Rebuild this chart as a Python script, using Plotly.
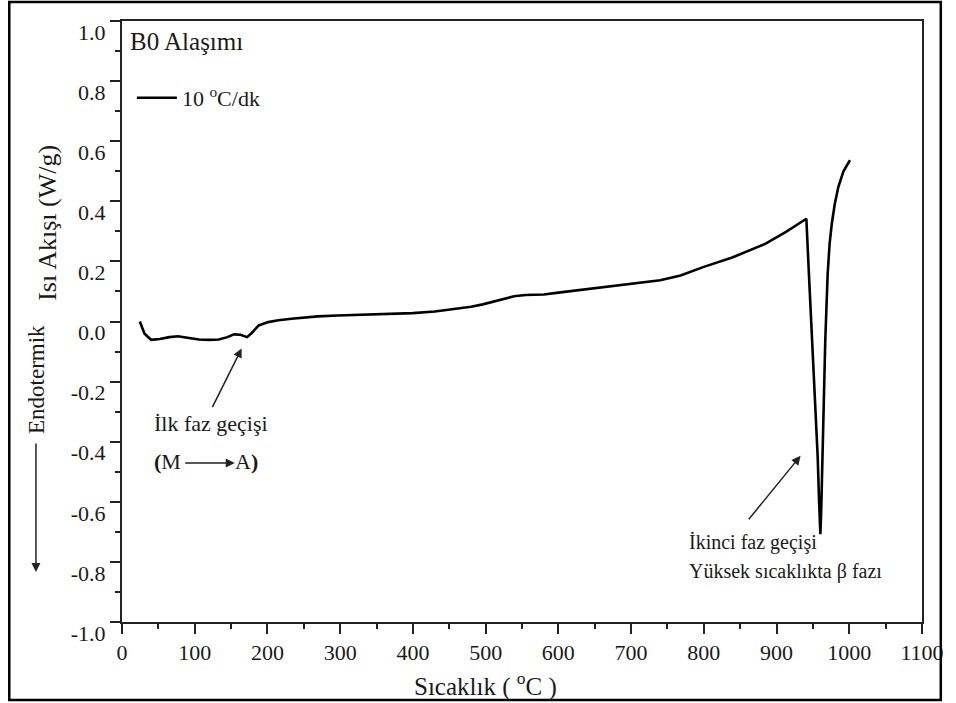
import plotly.graph_objects as go

# DSC heating curve of the B0 alloy (10 °C/min)
temperature = [24.5, 31, 40, 52, 65, 77, 92, 106, 120, 133, 145, 154, 163, 172, 178,
               188, 201, 215, 233, 250, 269, 296, 328, 360, 400, 430, 455, 480, 496,
               518, 539, 555, 580, 600, 645, 691, 740, 768, 799, 840, 885, 913, 941,
               944.5, 949, 953.6, 956.6, 958.5, 960.3, 961.5, 962.6, 965, 967, 970.3,
               973, 976, 980, 985, 992, 1001]
heat_flow = [0.0, -0.041, -0.061, -0.058, -0.052, -0.049, -0.055, -0.06, -0.061, -0.06,
             -0.052, -0.043, -0.044, -0.052, -0.039, -0.013, -0.002, 0.004, 0.009, 0.013,
             0.017, 0.02, 0.022, 0.024, 0.028, 0.033, 0.04, 0.049, 0.057, 0.07, 0.084,
             0.088, 0.09, 0.096, 0.109, 0.123, 0.137, 0.153, 0.181, 0.214, 0.259, 0.298,
             0.342, 0.159, -0.063, -0.286, -0.452, -0.6, -0.708, -0.62, -0.508, -0.286,
             -0.063, 0.159, 0.26, 0.326, 0.39, 0.448, 0.5, 0.537]

x_ticks = list(range(0, 1101, 100))
y_ticks = [-1.0, -0.8, -0.6, -0.4, -0.2, 0.0, 0.2, 0.4, 0.6, 0.8, 1.0]
y_tick_text = [f"{v:.1f}" for v in y_ticks]

# arrow tips pointing at the two transitions (data coordinates)
first_transition = (164.5, -0.09)
second_transition = (933, -0.447)

FONT = "Liberation Serif, Times New Roman, serif"
INK = "#1a1a1a"
W, H = 956, 703
ML, MR, MT, MB = 122, 25, 21, 81
PW, PH = W - ML - MR, H - MT - MB


def px(x):
    return (x - ML) / PW


def py(y):
    return (H - MB - y) / PH


fig = go.Figure()
fig.add_trace(go.Scatter(
    x=temperature, y=heat_flow, mode="lines",
    line=dict(color="black", width=2.6),
    name="10 <sup>o</sup>C/dk", showlegend=True,
))

axis_common = dict(
    showgrid=False, zeroline=False, showline=True, linecolor="#222", linewidth=2,
    mirror=True, ticks="outside", ticklen=10, tickwidth=2, tickcolor="#222",
    tickfont=dict(family=FONT, size=22, color=INK),
)

fig.update_xaxes(
    range=[0, 1100], tickvals=x_ticks,
    minor=dict(dtick=50, ticks="outside", ticklen=5, tickwidth=2, tickcolor="#222"),
    **axis_common,
)
fig.update_yaxes(
    range=[-1, 1], tickvals=y_ticks, ticktext=y_tick_text, ticklabelshift=11,
    minor=dict(dtick=0.1, ticks="outside", ticklen=5, tickwidth=2, tickcolor="#222"),
    **axis_common,
)

txt = dict(family=FONT, color=INK)
annotations = [
    dict(x=px(128), y=py(42), text="B0 Alaşımı", xanchor="left", yanchor="middle",
         font=dict(size=25, **txt)),
    dict(x=px(490), y=py(684), text="Sıcaklık ( <sup>o</sup>C )", xanchor="center",
         yanchor="middle", font=dict(size=25, **txt)),
    dict(x=px(46), y=py(223), text="Isı Akışı (W/g)", textangle=-90, xanchor="center",
         yanchor="middle", font=dict(size=26, **txt)),
    dict(x=px(35), y=py(379), text="Endotermik", textangle=-90, xanchor="center",
         yanchor="middle", font=dict(size=23, **txt)),
    dict(x=px(152), y=py(423), text="İlk faz geçişi", xanchor="left", yanchor="middle",
         font=dict(size=22, **txt)),
    dict(x=px(152), y=py(461), text="<b>(</b>M", xanchor="left", yanchor="middle",
         font=dict(size=22, **txt)),
    dict(x=px(234), y=py(461), text="A<b>)</b>", xanchor="left", yanchor="middle",
         font=dict(size=22, **txt)),
    dict(x=px(693), y=py(542), text="İkinci faz geçişi", xanchor="left", yanchor="middle",
         font=dict(size=20, **txt)),
    dict(x=px(693), y=py(571), text="Yüksek sıcaklıkta β fazı", xanchor="left",
         yanchor="middle", font=dict(size=20, **txt)),
    # endothermic direction arrow
    dict(x=px(35), y=py(572), ax=0, ay=-130, xref="paper", yref="paper", text="",
         showarrow=True, arrowhead=2, arrowsize=1.2, arrowwidth=1.5, arrowcolor="#222"),
    # M -> A arrow
    dict(x=px(236), y=py(463), ax=-51, ay=0, xref="paper", yref="paper", text="",
         showarrow=True, arrowhead=2, arrowsize=1.2, arrowwidth=1.5, arrowcolor="#222"),
    dict(x=first_transition[0], y=first_transition[1], ax=-30, ay=60, xref="x", yref="y",
         text="", showarrow=True, arrowhead=2, arrowsize=1.2, arrowwidth=1.5,
         arrowcolor="#222"),
    dict(x=second_transition[0], y=second_transition[1], ax=-53, ay=65, xref="x", yref="y",
         text="", showarrow=True, arrowhead=2, arrowsize=1.2, arrowwidth=1.5,
         arrowcolor="#222"),
]
for a in annotations:
    a.setdefault("xref", "paper")
    a.setdefault("yref", "paper")
    a.setdefault("showarrow", False)

fig.update_layout(
    width=W, height=H, margin=dict(l=ML, r=MR, t=MT, b=MB),
    paper_bgcolor="white", plot_bgcolor="white",
    font=dict(family=FONT, color=INK),
    annotations=annotations,
    legend=dict(x=px(132), y=py(98), xanchor="left", yanchor="middle",
                bgcolor="rgba(0,0,0,0)", font=dict(family=FONT, size=22, color=INK),
                itemwidth=40),
    shapes=[dict(type="rect", xref="paper", yref="paper", x0=px(8), x1=px(950),
                 y0=py(700), y1=py(2), line=dict(color="black", width=2.5))],
)

fig.write_html("out.html")
